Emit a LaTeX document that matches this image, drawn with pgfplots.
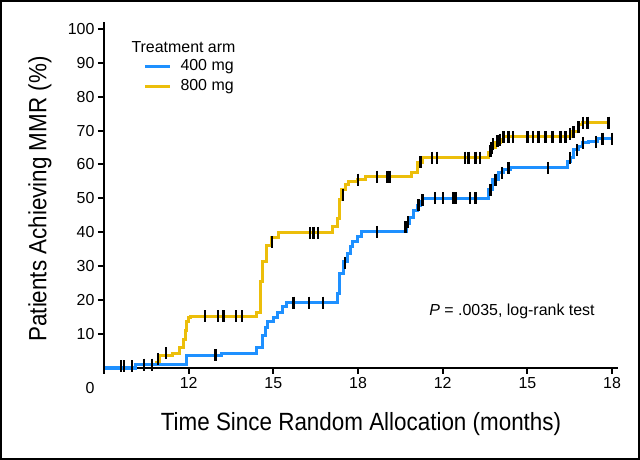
\documentclass[border=0pt]{standalone}
\usepackage{fontspec}
\setmainfont{Liberation Sans}
\newfontfamily\condfont[FakeStretch=0.9]{Liberation Sans}
\usepackage{pgfplots}
\pgfplotsset{compat=1.18}

\definecolor{armblue}{RGB}{30,144,255}
\definecolor{armgold}{RGB}{236,190,10}

% step points: (time of event, new cumulative %)
\pgfplotstableread{
x y
0 0
1.10 0.9
1.85 1.5
1.95 3.8
2.41 4.4
2.69 5.9
2.80 8.3
2.88 11.2
2.94 13.6
2.98 14.8
3.05 15.3
5.42 16.5
5.53 25.4
5.63 31.3
5.74 36.2
5.95 38.6
6.17 39.8
8.08 41.6
8.26 44.2
8.36 49.6
8.43 52.5
8.54 54.0
8.65 54.9
8.97 55.5
9.25 56.4
10.91 57.7
11.09 60.7
11.27 62.0
13.61 63.5
13.68 65.0
13.86 66.5
14.03 67.3
14.14 68.1
16.51 69.6
16.80 71.7
16.94 72.3
17.93 72.3
}\goldcurve

\pgfplotstableread{
x y
0 0
1.10 1.0
2.94 3.8
4.18 4.4
5.42 5.9
5.60 9.7
5.71 11.8
5.81 13.6
5.99 15.0
6.13 16.5
6.31 18.0
6.48 19.3
8.26 22.0
8.36 28.0
8.47 31.3
8.61 33.9
8.72 35.7
8.82 37.2
8.97 38.9
9.14 40.1
10.70 42.5
10.84 44.5
10.95 46.5
11.09 48.0
11.20 49.2
11.30 50.1
13.61 52.5
13.78 55.5
13.96 57.5
14.14 58.4
14.39 59.0
16.41 60.8
16.51 62.2
16.62 64.3
16.80 65.2
16.94 66.4
17.15 66.7
17.47 67.6
18.00 67.6
}\bluecurve

% censored observations
\pgfplotstableread{
x y
1.91 2.7
2.20 4.4
3.58 15.3
4.04 15.3
4.22 15.3
4.68 15.3
4.89 15.3
5.95 37.0
7.30 39.8
7.41 39.8
7.58 39.8
8.47 51.0
9.00 55.5
9.67 56.4
10.03 56.4
10.13 56.4
11.20 60.7
11.62 62.0
11.80 62.0
12.79 62.0
12.90 62.0
13.15 62.0
13.32 62.0
13.68 64.0
13.73 65.0
13.78 66.0
13.93 67.0
14.03 67.3
14.14 68.1
14.32 68.1
14.49 68.1
14.99 68.1
15.20 68.1
15.38 68.1
15.63 68.1
15.88 68.1
16.16 68.1
16.34 68.1
16.51 69.0
16.62 69.6
16.80 71.0
16.97 72.3
17.12 72.3
17.86 72.3
}\goldcens

\pgfplotstableread{
x y
0.00 0.3
0.60 0.5
0.71 0.5
0.99 0.5
1.42 1.0
1.70 1.0
3.96 3.8
6.70 19.3
7.26 19.3
7.76 19.3
8.54 31.0
9.67 40.1
10.67 41.5
10.77 43.0
11.13 48.0
11.27 49.5
11.73 50.1
12.01 50.1
12.37 50.1
12.47 50.1
12.97 50.1
13.15 50.1
13.68 52.5
13.86 55.5
14.10 57.5
14.32 59.0
15.73 59.0
16.51 62.0
16.76 64.3
16.97 66.4
17.43 66.7
17.65 67.6
18.00 67.6
}\bluecens

\begin{document}
\begin{tikzpicture}
\begin{axis}[
    scale only axis,
    width=514bp, height=346bp,
    xmin=0, xmax=18.21,
    ymin=0, ymax=102,
    axis lines*=left,
    axis line style={line width=2bp, black},
    xtick={0,3,...,18},
    xticklabels={,12,15,18,12,15,18},
    ytick={10,20,...,100},
    tick align=outside,
    major tick length=6bp,
    tick style={line width=2bp, black},
    tick label style={font=\fontsize{16}{19}\selectfont,
        /pgf/number format/assume math mode=true},
    clip=false,
]
\addplot[const plot, armgold, line width=3bp] table {\goldcurve};
\addplot[const plot, armblue, line width=3bp] table {\bluecurve};
\addplot[only marks, mark=|, mark size=6bp, line width=2.8bp, black] table {\goldcens};
\addplot[only marks, mark=|, mark size=6bp, line width=2.8bp, black] table {\bluecens};
\end{axis}

% pixel layout: X = px - 104, Y = 368 - py
\node[font=\fontsize{16}{19}\selectfont] at (-14bp,-20bp) {0};
\node[font=\condfont\fontsize{25}{30}\selectfont] at (257bp,-56bp)
    {Time Since Random Allocation (months)};
\node[font=\condfont\fontsize{25}{30}\selectfont, rotate=90] at (-64bp,169bp)
    {Patients Achieving MMR (\%)};
\node[font=\fontsize{16}{19}\selectfont, anchor=west] at (24bp,321bp) {Treatment arm};
\draw[armblue, line width=3bp] (41bp,301bp) -- (66bp,301bp);
\draw[armgold, line width=3bp] (41bp,281bp) -- (66bp,281bp);
\node[font=\fontsize{16}{19}\selectfont, anchor=west] at (73bp,301bp) {400 mg};
\node[font=\fontsize{16}{19}\selectfont, anchor=west] at (73bp,281bp) {800 mg};
\node[font=\fontsize{16}{19}\selectfont] at (408bp,57bp) {\textit{P} = .0035, log-rank test};

\draw[line width=2.5bp] (-102.75bp,-90.75bp) rectangle (534.75bp,366.75bp);
\useasboundingbox (-104bp,-92bp) rectangle (536bp,368bp);
\end{tikzpicture}
\end{document}
